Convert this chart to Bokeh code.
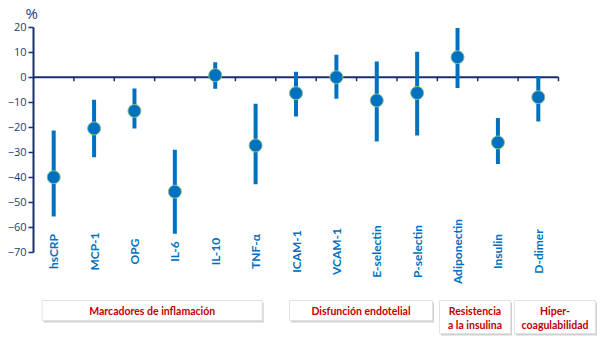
import math
from bokeh.plotting import figure
from bokeh.models import Range1d, FixedTicker, ColumnDataSource, Title
from bokeh.core.properties import value
from bokeh.embed import file_html
from bokeh.resources import INLINE

# ---------------- data ----------------
categories = ["hsCRP", "MCP-1", "OPG", "IL-6", "IL-10", "TNF-α", "ICAM-1",
              "VCAM-1", "E-selectin", "P-selectin", "Adiponectin", "Insulin", "D-dimer"]
mean_change = [-40, -20.5, -13.5, -45.8, 0.8, -27.3, -6.4, 0, -9.3, -6.3, 8, -26.1, -8]
ci_low = [-55.7, -32, -20.5, -62.6, -4.6, -42.8, -15.7, -8.6, -25.7, -23.3, -4.3, -34.7, -17.7]
ci_high = [-21.3, -9, -4.5, -29, 6, -10.6, 2.2, 9, 6.3, 10.2, 19.7, -16.3, 0.5]
y_ticks = [-70, -60, -50, -40, -30, -20, -10, 0, 10, 20]
group_labels = ["Marcadores de inflamación", "Disfunción endotelial",
                "Resistencia\na la insulina", "Hiper-\ncoagulabilidad"]

# ---------------- layout helpers ----------------
TITLE_H = 22
PX_PER_Y = 2.5
FRAME_W, FRAME_H = 567, 343 - TITLE_H
Y_TOP = 20 + (26.7 - TITLE_H) / PX_PER_Y
N = len(categories)
PX_PER_X = 525 / N
X_END = FRAME_W / PX_PER_X


def ypx(px):
    """canvas pixel row -> data y"""
    return Y_TOP - (px - TITLE_H) / PX_PER_Y


def xpx(px):
    """canvas pixel column -> data x"""
    return (px - 33) / PX_PER_X


NAVY = "#1A2D6E"
LABEL_NAVY = "#1F3A78"
BLUE = "#0070C0"
RED = "#C00000"

p = figure(frame_width=FRAME_W, frame_height=FRAME_H,
           x_range=Range1d(0, X_END), y_range=Range1d(ypx(343), Y_TOP),
           output_backend="svg", toolbar_location=None,
           min_border_left=33, min_border_right=0, min_border_top=0, min_border_bottom=0,
           x_axis_type=None, title=None)
p.add_layout(Title(text="%", align="left", offset=-8, standoff=0,
                   text_color=LABEL_NAVY, text_font="Open Sans",
                   text_font_size="15px", text_font_style="normal"), "above")
p.outline_line_color = None
p.xgrid.visible = False
p.ygrid.visible = False
p.background_fill_color = "white"
p.border_fill_color = "white"

ax = p.yaxis[0]
ax.bounds = (min(y_ticks), max(y_ticks))
ax.ticker = FixedTicker(ticks=y_ticks, minor_ticks=[])
ax.axis_line_color = NAVY
ax.axis_line_width = 2
ax.major_tick_line_color = NAVY
ax.major_tick_line_width = 1.5
ax.major_tick_out = 5
ax.major_tick_in = 0
ax.minor_tick_line_color = None
ax.major_label_standoff = 2
ax.major_label_text_color = LABEL_NAVY
ax.major_label_text_font = "Open Sans"
ax.major_label_text_font_size = "11px"

# zero line with category-boundary ticks
p.segment(x0=[0], y0=[0], x1=[N], y1=[0], line_color=NAVY, line_width=2)
bounds_x = list(range(1, N + 1))
p.segment(x0=bounds_x, y0=[0] * N, x1=bounds_x, y1=[-4 / PX_PER_Y] * N,
          line_color=NAVY, line_width=1.5)

xs = [i + 0.5 for i in range(N)]
src = ColumnDataSource(dict(x=xs, m=mean_change, lo=ci_low, hi=ci_high, cat=categories))
p.segment(x0="x", y0="lo", x1="x", y1="hi", source=src, line_color=BLUE,
          line_width=4)
p.scatter(x="x", y="m", source=src, size=13, fill_color=BLUE,
          line_color="#8CC08A", line_width=1)

# category labels (rotated)
p.text(x="x", y=ypx(251), text="cat", source=src, angle=math.pi / 2,
       text_align="center", text_baseline="middle", text_color=BLUE,
       text_font=value("Lato"), text_font_style="bold", text_font_size="12px")

# group boxes
box_x0 = [xpx(41.7), xpx(289), xpx(439), xpx(514)]
box_x1 = [xpx(261.7), xpx(432), xpx(510), xpx(595)]
box_top = [ypx(300)] * 4
box_bot = [ypx(320), ypx(320), ypx(333), ypx(333)]
dx, dy = 1.5 / PX_PER_X, 2 / PX_PER_Y
p.quad(left=[a + dx for a in box_x0], right=[b + dx for b in box_x1],
       top=[t - dy for t in box_top], bottom=[b - dy for b in box_bot],
       fill_color="#9A9A9A", fill_alpha=0.45, line_color=None)
p.quad(left=box_x0, right=box_x1, top=box_top, bottom=box_bot,
       fill_color="white", line_color="#E2E2E2", line_width=1)

tx, ty, tt = [], [], []
for i, lab in enumerate(group_labels):
    lines = lab.split("\n")
    cx = (box_x0[i] + box_x1[i]) / 2
    for j, ln in enumerate(lines):
        tx.append(cx)
        ty.append(ypx(310.5 + 13.5 * j))
        tt.append(ln)
p.text(x=tx, y=ty, text=tt, text_align="center", text_baseline="middle",
       text_color=RED, text_font=value("Lato"), text_font_style="bold",
       text_font_size="10.5px")

open("out.html", "w").write(file_html(p, INLINE))
